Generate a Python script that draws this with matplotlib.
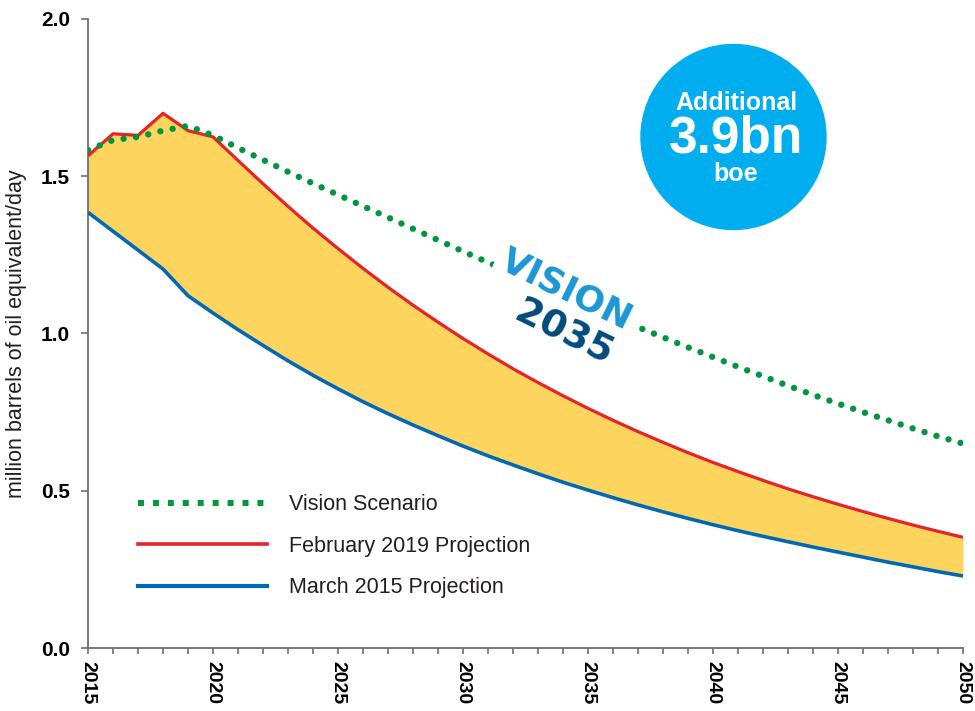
import matplotlib
matplotlib.use("Agg")
import matplotlib.pyplot as plt
from matplotlib.patches import Ellipse
from matplotlib.lines import Line2D
from matplotlib.ticker import MultipleLocator

plt.rcParams['font.family'] = ['Liberation Sans', 'DejaVu Sans']

# values (million boe/day)
years = list(range(2015, 2051))
vision = [1.583, 1.615, 1.625, 1.645, 1.66, 1.63, 1.59, 1.552, 1.514, 1.477,
          1.441, 1.405, 1.369, 1.333, 1.297, 1.261, 1.226, 1.191, 1.156, 1.121,
          1.087, 1.053, 1.02, 0.988, 0.956, 0.925, 0.894, 0.864, 0.834, 0.805,
          0.777, 0.75, 0.724, 0.698, 0.673, 0.65]
feb_2019 = [1.565, 1.635, 1.63, 1.70, 1.645, 1.625, 1.55, 1.476, 1.404, 1.335,
            1.27, 1.207, 1.147, 1.09, 1.036, 0.984, 0.935, 0.888, 0.844, 0.802,
            0.762, 0.724, 0.688, 0.654, 0.621, 0.59, 0.561, 0.533, 0.506, 0.481,
            0.457, 0.434, 0.412, 0.391, 0.371, 0.352]
mar_2015 = [1.385, 1.325, 1.265, 1.205, 1.12, 1.065, 1.012, 0.962, 0.913, 0.867,
            0.824, 0.783, 0.745, 0.709, 0.675, 0.642, 0.611, 0.582, 0.554, 0.527,
            0.502, 0.478, 0.455, 0.433, 0.412, 0.392, 0.373, 0.355, 0.338, 0.321,
            0.305, 0.289, 0.273, 0.258, 0.243, 0.229]
labels = ['Vision Scenario', 'February 2019 Projection', 'March 2015 Projection']
y_ticks = [0.0, 0.5, 1.0, 1.5, 2.0]
x_ticks = [2015, 2020, 2025, 2030, 2035, 2040, 2045, 2050]

green = '#00963F'
red = '#E52329'
blue = '#0068B4'
yellow = '#FDD55E'
axis_grey = '#6D6E71'

fig = plt.figure(figsize=(9.75, 7.11), dpi=100)
ax = fig.add_axes([0.0903, 0.0886, 0.8974, 0.8847])

ax.fill_between(years, mar_2015, feb_2019, color=yellow, lw=0, zorder=1)
ax.plot(years, mar_2015, color=blue, lw=2.6, zorder=3, solid_capstyle='butt')
ax.plot(years, feb_2019, color=red, lw=2.3, zorder=4, solid_capstyle='butt')
ax.plot(years, vision, color=green, lw=4.6, linestyle=(0, (0.01, 1.95)),
        dash_capstyle='round', zorder=5)

ax.set_xlim(2015, 2050)
ax.set_ylim(0, 2.0)
ax.set_xticks(x_ticks)
ax.xaxis.set_minor_locator(MultipleLocator(1))
ax.set_yticks(y_ticks)
ax.set_yticklabels([f'{v:.1f}' for v in y_ticks], fontsize=15, fontweight='bold')
ax.set_xticklabels([str(v) for v in x_ticks], fontsize=14, fontweight='bold',
                   rotation=-90)
ax.tick_params(axis='y', length=5, width=1.2, color=axis_grey, pad=8)
ax.tick_params(axis='x', which='both', length=4, width=1.2, color=axis_grey, pad=5)
for side in ['top', 'right']:
    ax.spines[side].set_visible(False)
for side in ['left', 'bottom']:
    ax.spines[side].set_color(axis_grey)
    ax.spines[side].set_linewidth(1.3)

ax.set_ylabel('million barrels of oil equivalent/day', fontsize=15.5, color='#231F20')
ax.yaxis.set_label_coords(-0.07, 0.5)

handles = [
    Line2D([], [], color=green, lw=4.3, linestyle=(0, (1, 1.5)), dash_capstyle='butt'),
    Line2D([], [], color=red, lw=2.6),
    Line2D([], [], color=blue, lw=3.0),
]
leg = ax.legend(handles, labels, loc='center left', bbox_to_anchor=(0.057, 0.162),
                frameon=False, fontsize=15.5, handlelength=6.0, handletextpad=1.0,
                labelspacing=0.95, borderpad=0, borderaxespad=0)
for t in leg.get_texts():
    t.set_color('#231F20')

# Vision 2035 logo
ax.text(2034.12, 1.138, 'VISION', rotation=-26, rotation_mode='anchor',
        ha='center', va='center', fontsize=26, fontweight='bold',
        family='DejaVu Sans', color='#1B97D4', zorder=6,
        bbox=dict(boxstyle='square,pad=0.15', fc='white', ec='none'))
ax.text(2034.0, 1.0, '2035', rotation=-26, rotation_mode='anchor',
        ha='center', va='center', fontsize=27, fontweight='bold',
        family='DejaVu Sans', color='#004B7D', zorder=6)

# callout circle
circ = Ellipse((733.5 / 975, 1 - 137 / 711), 185 / 975, 185 / 711,
               transform=fig.transFigure, color='#00AEEF', zorder=10)
fig.patches.append(circ)
fig.text(736 / 975, 1 - 103 / 711, 'Additional', ha='center', va='center',
         fontsize=18, fontweight='bold', color='white', zorder=11)
fig.text(736 / 975, 1 - 139 / 711, '3.9bn', ha='center', va='center',
         fontsize=37, fontweight='bold', color='white', zorder=11)
fig.text(736 / 975, 1 - 174 / 711, 'boe', ha='center', va='center',
         fontsize=18, fontweight='bold', color='white', zorder=11)

fig.savefig('out.png', dpi=100)
